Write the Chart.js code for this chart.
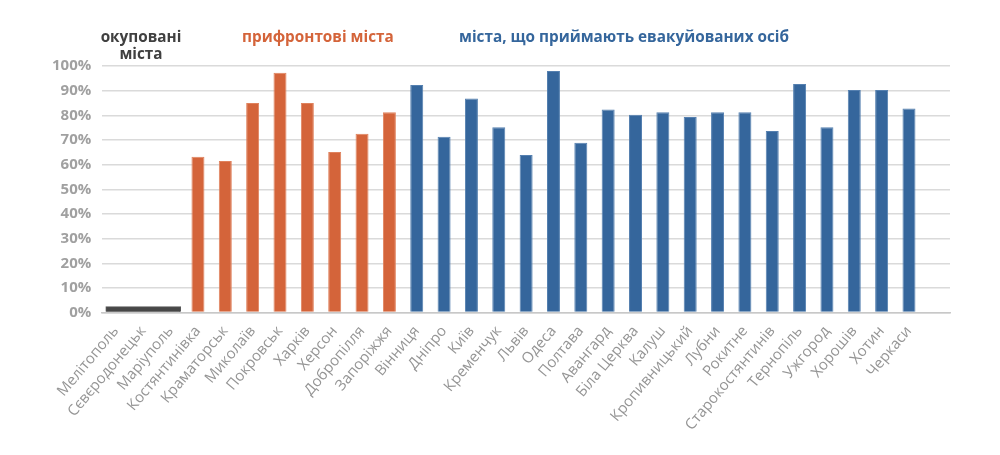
<!DOCTYPE html>
<html><head><meta charset="utf-8">
<script src="https://cdn.jsdelivr.net/npm/chart.js@4.4.0/dist/chart.umd.min.js"></script>
<style>
html,body{margin:0;padding:0;background:#fff;}
#wrap{position:relative;width:1000px;height:455px;}
canvas{position:absolute;left:0;top:0;}
.hdr{position:absolute;font-family:"Open Sans",sans-serif;font-weight:700;font-size:15.3px;line-height:17px;white-space:nowrap;}
</style></head>
<body>
<div id="wrap">
<canvas id="c" width="1000" height="455"></canvas>
<div class="hdr" style="left:99px;top:28px;color:#404040;text-align:center;width:84px;">окуповані<br>міста</div>
<div class="hdr" style="left:242px;top:28px;color:#D4643A;">прифронтові міста</div>
<div class="hdr" style="left:459px;top:28px;color:#35669C;">міста, що приймають евакуйованих осіб</div>
</div>
<script>
const occupiedCities = ['Мелітополь','Сєвєродонецьк','Маріуполь'];
const occupiedValue = 2.4;
const frontlineCities = ['Костянтинівка','Краматорськ','Миколаїв','Покровськ','Харків','Херсон','Добропілля','Запоріжжя'];
const frontlineValues = [63.2,61.5,85,97.3,85,65.1,72.5,81.2];
const hostCities = ['Вінниця','Дніпро','Київ','Кременчук','Львів','Одеса','Полтава','Авангард','Біла Церква','Калуш','Кропивницький','Лубни','Рокитне','Старокостянтинів','Тернопіль','Ужгород','Хорошів','Хотин','Черкаси'];
const hostValues = [92.3,71.3,86.8,75.2,63.9,98,68.9,82.4,80.2,81.2,79.3,81.2,81.2,73.6,92.7,75.2,90.3,90.3,82.8];
const spacer = [''];
const yTicks = [0,10,20,30,40,50,60,70,80,90,100];

const labels = [...occupiedCities, ...frontlineCities, ...hostCities, ...spacer];
const occData = labels.map((l,i)=> i===1 ? occupiedValue : null);
const frData = labels.map((l,i)=>{const k=i-occupiedCities.length; return (k>=0&&k<frontlineValues.length)?frontlineValues[k]:null;});
const hoData = labels.map((l,i)=>{const k=i-occupiedCities.length-frontlineCities.length; return (k>=0&&k<hostValues.length)?hostValues[k]:null;});

new Chart(document.getElementById('c'),{
  type:'bar',
  data:{labels,datasets:[
    {data:occData,backgroundColor:'#474747',borderColor:'#5a5a5a',borderWidth:1,barThickness:75,grouped:false},
    {data:frData,backgroundColor:'#D4643A',borderColor:'#E0825D',borderWidth:1,grouped:false,barPercentage:0.475,categoryPercentage:1},
    {data:hoData,backgroundColor:'#35669C',borderColor:'#5580B0',borderWidth:1,grouped:false,barPercentage:0.475,categoryPercentage:1}
  ]},
  options:{
    responsive:false,animation:false,
    layout:{padding:{left:41,right:50,top:66,bottom:19}},
    plugins:{legend:{display:false},tooltip:{enabled:false}},
    scales:{
      x:{grid:{display:false},border:{color:'#c8c8c8',width:1.5},
        ticks:{color:'#959595',font:{family:'Open Sans',size:15},maxRotation:50,minRotation:50,autoSkip:false,padding:2}},
      y:{min:0,max:100,afterBuildTicks:(s)=>{s.ticks=yTicks.map(v=>({value:v}));},
        grid:{color:'#dadada',lineWidth:1.5,drawTicks:false},border:{display:false},
        ticks:{color:'#a0a0a0',font:{family:'Open Sans',size:15,weight:'bold'},padding:11,callback:v=>v+'%'}}
    }
  }
});
</script>
</body></html>
